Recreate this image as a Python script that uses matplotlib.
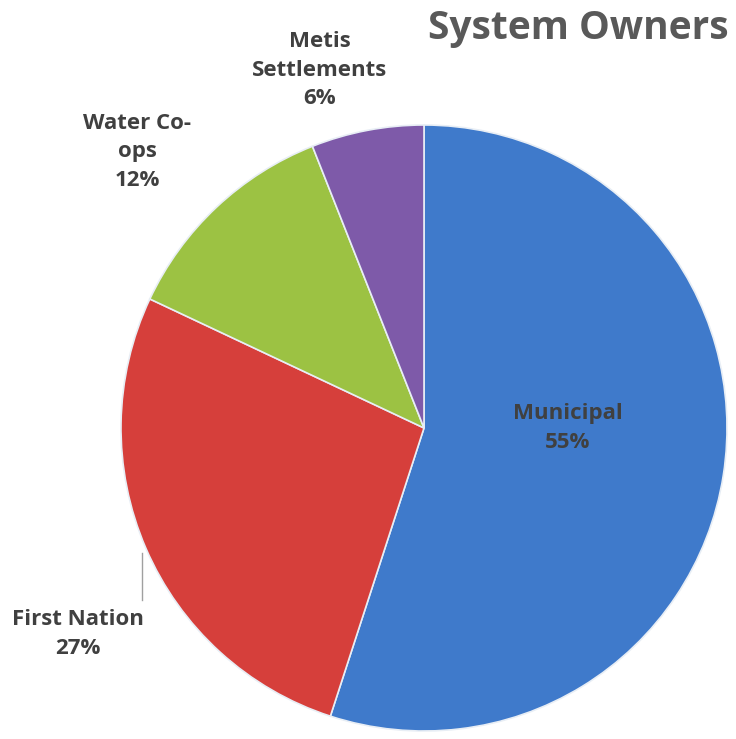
import matplotlib
matplotlib.use("Agg")
import matplotlib.pyplot as plt

labels = ["Municipal", "First Nation", "Water Co-\nops", "Metis\nSettlements"]
values = [55, 27, 12, 6]
colors = ["#3f7acb", "#d63f3b", "#9cc243", "#7e5aa9"]

plt.rcParams['font.family'] = ['Open Sans', 'DejaVu Sans']

fig = plt.figure(figsize=(7.36, 7.39), dpi=100)
ax = fig.add_axes([0, 0, 1, 1])

cx, cy, r = 424, 739 - 428, 303
wedges, _ = ax.pie(values, colors=colors, startangle=90, counterclock=False,
                   center=(cx, cy), radius=r, frame=True,
                   wedgeprops=dict(edgecolor='#e8eef5', linewidth=1.2))
ax.set_xlim(0, 736)
ax.set_ylim(0, 739)
ax.set_aspect('equal')
ax.axis('off')

txt = dict(fontsize=16, fontweight='bold', color='#404040', ha='center', va='center', linespacing=1.45)
pct = [f"{v}%" for v in values]
ax.text(568, 739 - 428, f"{labels[0]}\n{pct[0]}", **txt)
ax.text(78, 739 - 634, f"{labels[1]}\n{pct[1]}", **txt)
ax.text(137, 739 - 152, f"{labels[2]}\n{pct[2]}", **txt)
ax.text(320, 739 - 70, f"{labels[3]}\n{pct[3]}", **txt)

# leader line for First Nation
ax.plot([142, 142], [739 - 553, 739 - 600], color='#a0a0a0', lw=1)

ax.text(729, 739 - 28, "System Owners", fontsize=28, fontweight='bold',
        color='#595959', ha='right', va='center')

fig.savefig("out.png", dpi=100)
